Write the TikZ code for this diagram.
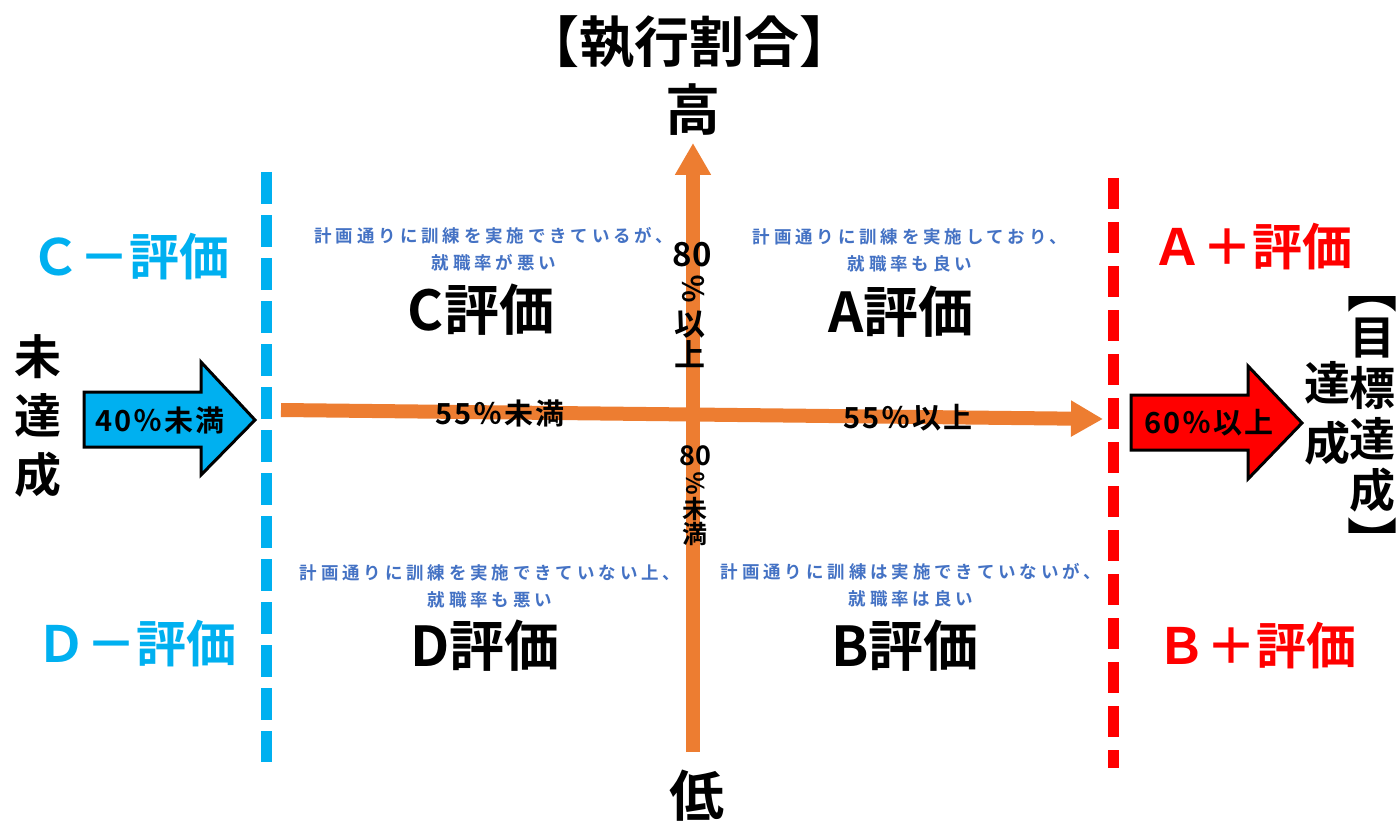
\documentclass[tikz,border=0pt]{standalone}
\usepackage{fontspec}
\usepackage{graphicx}
\setmainfont{Noto Sans CJK JP}[BoldFont={* Bold}]
\usetikzlibrary{arrows.meta}
\definecolor{axisor}{HTML}{ED7D31}
\definecolor{cyanb}{HTML}{00B0F0}
\definecolor{redr}{HTML}{FF0000}
\definecolor{txtb}{HTML}{4472C4}
\newcommand{\fsz}[1]{\fontsize{#1}{#1}\selectfont\bfseries}
\tikzset{
  grade/.style={font=\fsz{55}, inner sep=0pt},
  sidegrade/.style={font=\fsz{50}, inner sep=0pt},
  desc/.style={font=\fontsize{17.5}{27}\selectfont\bfseries\addfontfeatures{LetterSpace=22}, text=txtb, align=center, inner sep=0pt},
  axislbl/.style={font=\fsz{55}, inner sep=0pt},
  axisline/.style={draw=axisor, line width=14pt, -{Triangle[width=34pt,length=32pt]}},
  pctlbl/.style={font=\fsz{29}\addfontfeatures{LetterSpace=6}, inner sep=0pt},
  vch/.style={inner sep=0pt},
  blockarrow/.style={draw=black, line width=3pt, line join=miter},
  dashblue/.style={draw=cyanb, line width=11pt, dash pattern=on 32pt off 11pt},
  dashred/.style={draw=redr, line width=11pt, dash pattern=on 31pt off 13pt},
}
\begin{document}
\begin{tikzpicture}[x=1pt,y=-1pt]
\useasboundingbox[fill=white] (0,0) rectangle (1398,824);

% dashed boundary lines
\coordinate (bt) at (266,172);
\coordinate (bb) at (266,762);
\coordinate (rt) at (1113,178);
\coordinate (rb) at (1113,768);
\draw[dashblue] (bt) -- (bb);
\draw[dashred] (rt) -- (rb);

% axes
\coordinate (vbot) at (693,752);
\coordinate (vtop) at (693,143);
\coordinate (hl) at (281,410);
\coordinate (hr) at (1103,419);
\draw[axisline] (vbot) -- (vtop);
\draw[axisline] (hl) -- (hr);

% titles
\node[axislbl] (title) at (689,42) {【執行割合】};
\node[axislbl] (high) at (693,110) {高};
\node[axislbl] (low) at (697,796) {低};

% quadrant descriptions
\node[desc] (cdesc) at (494,249) {計画通りに訓練を実施できているが、\\就職率が悪い};
\node[desc] (adesc) at (910,250) {計画通りに訓練を実施しており、\\就職率も良い};
\node[desc] (ddesc) at (490,586) {計画通りに訓練を実施できていない上、\\就職率も悪い};
\node[desc] (bdesc) at (911,585) {計画通りに訓練は実施できていないが、\\就職率は良い};

% grades
\node[grade] (cgrade) at (481,310) {C評価};
\node[grade] (agrade) at (901,312) {A評価};
\node[grade] (dgrade) at (485,646) {D評価};
\node[grade] (bgrade) at (905,646) {B評価};

\node[sidegrade, text=cyanb] (cminus) at (130,257) {Ｃ－評価};
\node[sidegrade, text=cyanb] (dminus) at (136,644) {Ｄ－評価};
\node[sidegrade, text=redr] (aplus) at (1252,247) {Ａ＋評価};
\node[sidegrade, text=redr] (bplus) at (1256,646) {Ｂ＋評価};

% axis value labels
\node[pctlbl] (h55lo) at (500,413) {55％未満};
\node[pctlbl] (h55hi) at (908,418) {55％以上};

\node[vch, font=\fsz{33}] (u80) at (692,255) {80};
\node[vch, font=\fsz{29}] (upct) at (694,289) {\rotatebox[origin=c]{-90}{％}};
\node[vch, font=\fsz{31}] (uyi) at (690,325) {以};
\node[vch, font=\fsz{31}] (ushang) at (690,354) {上};

\node[vch, font=\fsz{27}] (l80) at (695,456) {80};
\node[vch, font=\fsz{24}] (lpct) at (696,483) {\rotatebox[origin=c]{-90}{％}};
\node[vch, font=\fsz{25}] (lwei) at (695,509) {未};
\node[vch, font=\fsz{25}] (lman) at (695,534) {満};

% left block arrow
\draw[blockarrow, fill=cyanb] (84,392) -- (201,392) -- (201,362) -- (255,420) -- (201,475) -- (201,447) -- (84,447) -- cycle;
\node[pctlbl] (lo40) at (160,420) {40％未満};
\node[font=\fontsize{47}{59}\selectfont\bfseries, align=center, inner sep=0pt] (miss) at (38,416) {未\\達\\成};

% right block arrow
\draw[blockarrow, fill=redr] (1131,395) -- (1248,395) -- (1248,366) -- (1302,423) -- (1248,479) -- (1248,450) -- (1131,450) -- cycle;
\node[pctlbl] (hi60) at (1209,423) {60％以上};

% vertical goal label
\node[vch, font=\fsz{50}, anchor=south] (brtop) at (1372,312) {︻};
\node[font=\fontsize{46}{51}\selectfont\bfseries, align=center, inner sep=0pt] (goal) at (1372,415) {目\\標\\達\\成};
\node[vch, font=\fsz{50}, anchor=north] (brbot) at (1372,518) {︼};
\node[font=\fontsize{46}{60}\selectfont\bfseries, align=center, inner sep=0pt] (goal2) at (1327,413) {達\\成};
\end{tikzpicture}
\end{document}
